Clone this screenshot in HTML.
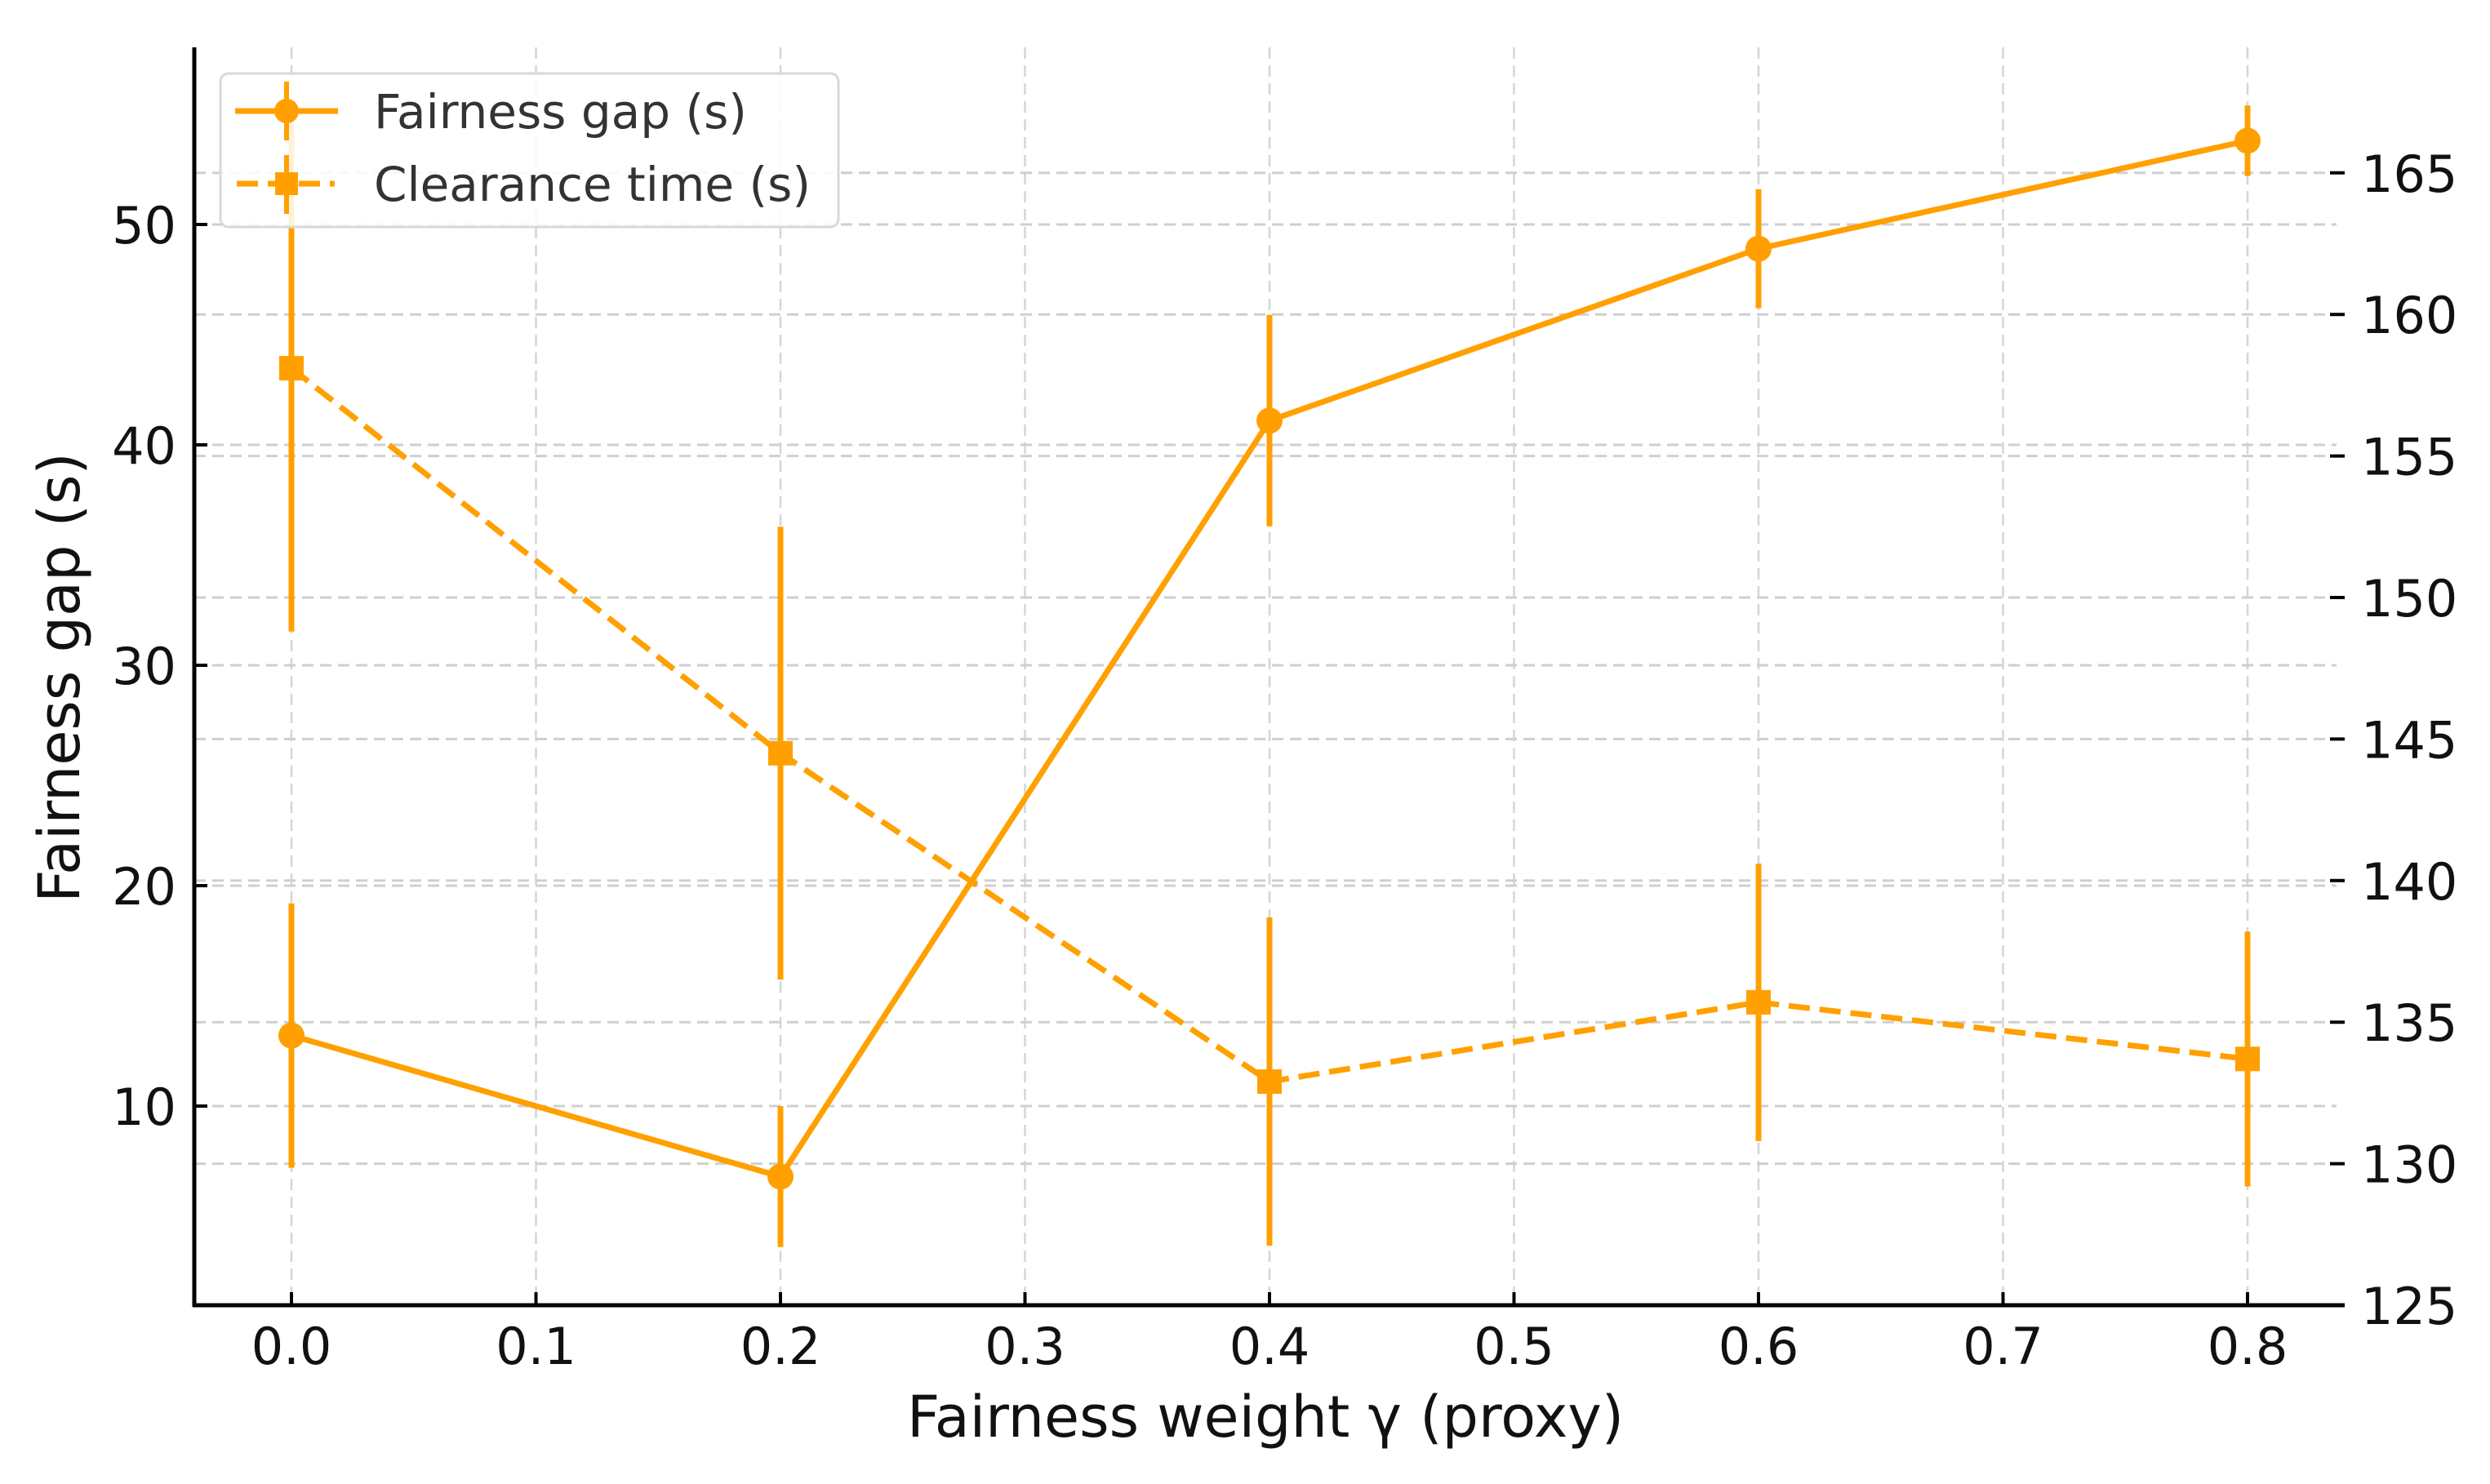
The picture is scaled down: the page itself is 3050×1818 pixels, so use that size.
<!DOCTYPE html>
<html><head><meta charset="utf-8"><style>
html,body{margin:0;padding:0;background:#fff}
svg{display:block;font-family:"DejaVu Sans","Liberation Sans",sans-serif}
</style></head><body>
<svg id="chart" width="3050" height="1818" viewBox="0 0 3050 1818">
<g id="grid"></g>
<g id="series"></g>
<g id="axes"></g>
<g id="legend"></g>
</svg>
<script>
const categories = [0.0, 0.2, 0.4, 0.6, 0.8];
const gapValues = [13.2, 6.8, 41.1, 48.9, 53.8];
const gapErr = [6.0, 3.2, 4.8, 2.7, 1.6];
const clearValues = [158.1, 144.5, 132.9, 135.7, 133.7];
const clearErr = [9.3, 8.0, 5.8, 4.9, 4.5];
const xTicks = [0.0, 0.1, 0.2, 0.3, 0.4, 0.5, 0.6, 0.7, 0.8];
const yLeftTicks = [10, 20, 30, 40, 50];
const yRightTicks = [125, 130, 135, 140, 145, 150, 155, 160, 165];

const NS = 'http://www.w3.org/2000/svg';
const L = 238, R = 2862, T = 58, B = 1599;
const COLOR = '#FFA000';
function xs(v){ return 357 + v * 2995; }
function yl(v){ return 1355 - (v - 10) * 27.0; }
function yr(v){ return 1599 - (v - 125) * 34.68; }
function mk(tag, attrs, parent){
  const e = document.createElementNS(NS, tag);
  for (const k in attrs) e.setAttribute(k, attrs[k]);
  parent.appendChild(e);
  return e;
}
const grid = document.getElementById('grid');
const series = document.getElementById('series');
const axes = document.getElementById('axes');
const legend = document.getElementById('legend');

xTicks.forEach(t => {
  const g = mk('line', {x1: xs(t), x2: xs(t), y1: T, y2: B, stroke: '#d5d5d5', 'stroke-width': 2.5, 'stroke-dasharray': '14 8'}, grid);
  
  
});
yLeftTicks.forEach(t => {
  const g = mk('line', {x1: L, x2: R, y1: yl(t), y2: yl(t), stroke: '#cfcfcf', 'stroke-width': 3, 'stroke-dasharray': '14 8'}, grid);
  
  
});
yRightTicks.forEach(t => {
  const g = mk('line', {x1: L, x2: R, y1: yr(t), y2: yr(t), stroke: '#cfcfcf', 'stroke-width': 3, 'stroke-dasharray': '14 8'}, grid);
  
  
});

let d = categories.map((c,i)=>(i?'L':'M')+xs(c)+' '+yr(clearValues[i])).join(' ');
let p = mk('path', {d: d, fill: 'none', stroke: COLOR, 'stroke-width': 7, 'stroke-dasharray': '26 12'}, series);


categories.forEach((c,i)=>{
  const e = mk('line', {x1: xs(c), x2: xs(c), y1: yr(clearValues[i]-clearErr[i]), y2: yr(clearValues[i]+clearErr[i]), stroke: COLOR, 'stroke-width': 7}, series);
  
  
  const m = mk('rect', {x: xs(c)-15, y: yr(clearValues[i])-15, width: 30, height: 30, fill: COLOR}, series);
  
  
});
d = categories.map((c,i)=>(i?'L':'M')+xs(c)+' '+yl(gapValues[i])).join(' ');
p = mk('path', {d: d, fill: 'none', stroke: COLOR, 'stroke-width': 7}, series);


categories.forEach((c,i)=>{
  const e = mk('line', {x1: xs(c), x2: xs(c), y1: yl(gapValues[i]-gapErr[i]), y2: yl(gapValues[i]+gapErr[i]), stroke: COLOR, 'stroke-width': 7}, series);
  
  
  const m = mk('circle', {cx: xs(c), cy: yl(gapValues[i]), r: 16, fill: COLOR}, series);
  
  
});

let s = mk('line', {x1: L, x2: L, y1: T, y2: B+2, stroke: '#000', 'stroke-width': 5}, axes);


s = mk('line', {x1: L-2, x2: R+10, y1: B, y2: B, stroke: '#000', 'stroke-width': 5}, axes);



xTicks.forEach(t => {
  const tk = mk('line', {x1: xs(t), x2: xs(t), y1: B, y2: B-16, stroke: '#000', 'stroke-width': 4}, axes);
  
  
  const lb = mk('text', {x: xs(t), y: B+72, 'text-anchor': 'middle', 'font-size': 62, fill: '#111'}, axes);
  lb.textContent = t.toFixed(1);
  
  
});
yLeftTicks.forEach(t => {
  const tk = mk('line', {x1: L, x2: L+16, y1: yl(t), y2: yl(t), stroke: '#000', 'stroke-width': 4}, axes);
  
  
  const lb = mk('text', {x: L-22, y: yl(t)+23, 'text-anchor': 'end', 'font-size': 62, fill: '#111'}, axes);
  lb.textContent = t;
  
  
});
yRightTicks.forEach(t => {
  const tk = mk('line', {x1: R-8, x2: R+10, y1: yr(t), y2: yr(t), stroke: '#000', 'stroke-width': 4}, axes);
  
  
  const lb = mk('text', {x: R+30, y: yr(t)+23, 'text-anchor': 'start', 'font-size': 62, fill: '#111'}, axes);
  lb.textContent = t;
  
  
});
let at = mk('text', {x: (L+R)/2, y: 1760, 'text-anchor': 'middle', 'font-size': 70, fill: '#111'}, axes);
at.textContent = 'Fairness weight γ (proxy)';


at = mk('text', {x: 0, y: 0, 'text-anchor': 'middle', 'font-size': 70, fill: '#111', transform: 'translate(97 830) rotate(-90)'}, axes);
at.textContent = 'Fairness gap (s)';



let lbx = mk('rect', {x: 270, y: 90, width: 757, height: 188, rx: 10, fill: 'rgba(255,255,255,0.85)', stroke: '#d8d8d8', 'stroke-width': 3}, legend);


let e1 = mk('g', {}, legend);


mk('line', {x1: 288, x2: 414, y1: 136, y2: 136, stroke: COLOR, 'stroke-width': 7}, e1);
mk('line', {x1: 351, x2: 351, y1: 100, y2: 172, stroke: COLOR, 'stroke-width': 6}, e1);
mk('circle', {cx: 351, cy: 136, r: 15, fill: COLOR}, e1);
let t1 = mk('text', {x: 458, y: 157, 'font-size': 58, fill: '#333'}, e1);
t1.textContent = 'Fairness gap (s)';
let e2 = mk('g', {}, legend);


mk('line', {x1: 290, x2: 410, y1: 225, y2: 225, stroke: COLOR, 'stroke-width': 7, 'stroke-dasharray': '26 12'}, e2);
mk('line', {x1: 351, x2: 351, y1: 190, y2: 262, stroke: COLOR, 'stroke-width': 6}, e2);
mk('rect', {x: 337, y: 211, width: 28, height: 28, fill: COLOR}, e2);
let t2 = mk('text', {x: 458, y: 246, 'font-size': 58, fill: '#333'}, e2);
t2.textContent = 'Clearance time (s)';
</script>
</body></html>
